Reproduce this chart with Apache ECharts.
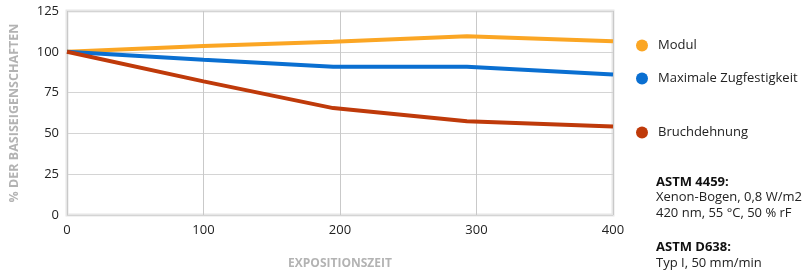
<!DOCTYPE html>
<html><head><meta charset="utf-8">
<script src="https://cdn.jsdelivr.net/npm/echarts@6/dist/echarts.min.js"></script>
<style>html,body{margin:0;padding:0;background:#fff}#c{width:802px;height:275px}</style>
</head><body><div id="c"></div>
<script>
const xValues = [0, 100, 195, 293, 400];
const modul = [100, 103.5, 106.2, 109.6, 106.4];
const zugfestigkeit = [100, 95.1, 90.9, 90.9, 86.1];
const bruchdehnung = [100, 81.9, 65.5, 57.5, 54.3];
const seriesNames = ['Modul', 'Maximale Zugfestigkeit', 'Bruchdehnung'];
const colors = ['#FBA624', '#0A6FD1', '#BF3A0A'];
const xTicks = [0, 100, 200, 300, 400];
const yTicks = [0, 25, 50, 75, 100, 125];

const font = '"Open Sans", sans-serif';
const chart = echarts.init(document.getElementById('c'));
const pair = arr => xValues.map((x, i) => [x, arr[i]]);
const legendTops = [34, 67, 121];
chart.setOption({
  animation: false,
  grid: { left: 65, right: 189, top: 11, bottom: 56, show: true, borderColor: '#e6e6e6', borderWidth: 3, backgroundColor: 'transparent' },
  xAxis: {
    type: 'value', min: 0, max: 400, interval: 100,
    name: 'EXPOSITIONSZEIT', nameLocation: 'middle', nameGap: 43,
    nameTextStyle: { color: '#b3b3b3', fontWeight: 'bold', fontSize: 12, fontFamily: font },
    axisLine: { show: false }, axisTick: { show: false },
    axisLabel: { color: '#222', fontSize: 13, fontFamily: font, margin: 9 },
    splitLine: { lineStyle: { color: '#c9c9c9', width: 1 } }
  },
  yAxis: {
    type: 'value', min: 0, max: 125, interval: 25,
    name: '% DER BASISEIGENSCHAFTEN', nameLocation: 'middle', nameGap: 46, nameRotate: 90,
    nameTextStyle: { color: '#b3b3b3', fontWeight: 'bold', fontSize: 12.5, fontFamily: font },
    axisLine: { show: false }, axisTick: { show: false },
    axisLabel: { color: '#222', fontSize: 13, fontFamily: font, margin: 8 },
    splitLine: { lineStyle: { color: '#d4d4d4', width: 1 } }
  },
  legend: seriesNames.map((n, i) => ({
    data: [n], left: 631, top: legendTops[i], orient: 'vertical',
    icon: 'circle', itemWidth: 12, itemHeight: 12, itemGap: 0,
    textStyle: { color: '#222', fontSize: 13, fontFamily: font, padding: [0, 0, 0, 5] }
  })),
  graphic: [
    { type: 'text', left: 656, top: 176, style: { text: 'ASTM 4459:', font: 'bold 13px ' + font, fill: '#111' } },
    { type: 'text', left: 656, top: 191, style: { text: 'Xenon-Bogen, 0,8 W/m2', font: '13px ' + font, fill: '#222' } },
    { type: 'text', left: 656, top: 207, style: { text: '420 nm, 55 °C, 50 % rF', font: '13px ' + font, fill: '#222' } },
    { type: 'text', left: 656, top: 241, style: { text: 'ASTM D638:', font: 'bold 13px ' + font, fill: '#111' } },
    { type: 'text', left: 656, top: 257, style: { text: 'Typ I, 50 mm/min', font: '13px ' + font, fill: '#222' } }
  ],
  series: [modul, zugfestigkeit, bruchdehnung].map((arr, i) => ({
    name: seriesNames[i], type: 'line', data: pair(arr), showSymbol: false, symbol: 'none',
    itemStyle: { color: colors[i] }, lineStyle: { color: colors[i], width: 4 }, z: 3 + i
  }))
});
</script></body></html>
